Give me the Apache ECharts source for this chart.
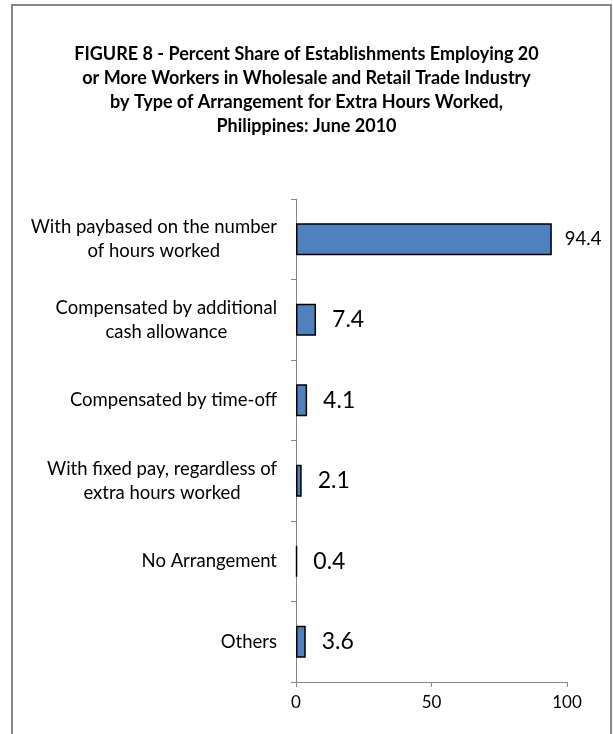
<!DOCTYPE html>
<html>
<head>
<meta charset="utf-8">
<script src="https://cdn.jsdelivr.net/npm/echarts@6/dist/echarts.min.js"></script>
<style>
html,body{margin:0;padding:0;background:#fff;}
#c{width:613px;height:734px;}
</style>
</head>
<body>
<div id="c"></div>
<script>
const titleText = "FIGURE 8 - Percent Share of Establishments Employing 20\nor More Workers in Wholesale and Retail Trade Industry\nby Type of Arrangement for Extra Hours Worked,\nPhilippines: June 2010";
const categories = [
  "With paybased on the number\nof hours worked",
  "Compensated by additional\ncash allowance",
  "Compensated by time-off",
  "With fixed pay, regardless of\nextra hours worked",
  "No Arrangement",
  "Others"
];
const values = [94.4, 7.4, 4.1, 2.1, 0.4, 3.6];
const labelSizes = [18.5, 23, 23, 23, 23, 23];
const xTicks = [0, 50, 100];

const FONT = "Lato, 'Open Sans', sans-serif";
const chart = echarts.init(document.getElementById('c'));
chart.setOption({
  animation: false,
  backgroundColor: '#ffffff',
  graphic: [{
    type: 'rect',
    shape: {x: 12, y: 5, width: 599, height: 740},
    style: {fill: 'none', stroke: '#878787', lineWidth: 2},
    silent: true
  }],
  title: {
    text: titleText,
    left: 'center',
    top: 37,
    textStyle: {fontFamily: FONT, fontWeight: 'bold', fontSize: 18, lineHeight: 24, color: '#000'}
  },
  grid: {left: 296, right: 46, top: 199, bottom: 52, containLabel: false},
  xAxis: {
    type: 'value', min: xTicks[0], max: xTicks[xTicks.length - 1], interval: 50,
    axisLine: {show: true, lineStyle: {color: '#868686', width: 1}},
    axisTick: {show: true, length: 5, lineStyle: {color: '#868686'}},
    splitLine: {show: false},
    axisLabel: {fontFamily: FONT, fontSize: 17, color: '#000', margin: 12}
  },
  yAxis: {
    type: 'category', data: categories, inverse: true,
    axisLine: {show: true, lineStyle: {color: '#868686', width: 1}},
    axisTick: {show: true, length: 5, lineStyle: {color: '#868686'}},
    axisLabel: {
      fontFamily: FONT, fontSize: 18.5, lineHeight: 24, color: '#000', margin: 19, align: 'right',
      formatter: function (s) {
        return s.split('\n').map(function (l) { return '{c|' + l + '}'; }).join('\n');
      },
      rich: {c: {align: 'center', fontFamily: FONT, fontSize: 18.5, lineHeight: 24, color: '#000'}}
    }
  },
  series: [{
    type: 'bar',
    barWidth: 32,
    data: values.map((v, i) => ({
      value: v,
      label: {fontSize: labelSizes[i], distance: i === 0 ? 13 : 16}
    })),
    itemStyle: {color: '#4F81BD', borderColor: '#000', borderWidth: 1.5},
    label: {show: true, position: 'right', fontFamily: FONT, color: '#000'}
  }]
});
</script>
</body>
</html>
